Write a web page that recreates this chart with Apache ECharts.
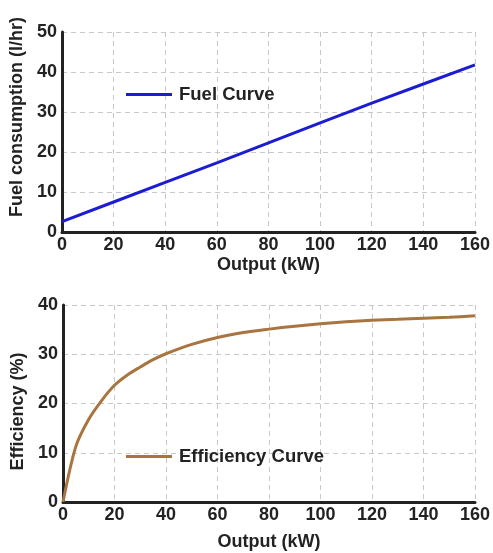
<!DOCTYPE html>
<html>
<head>
<meta charset="utf-8">
<script src="https://cdn.jsdelivr.net/npm/echarts@6/dist/echarts.min.js"></script>
<style>
  html, body { margin: 0; padding: 0; background: #fff; }
  #chart { width: 493px; height: 553px; }
</style>
</head>
<body>
<div id="chart"></div>
<script>
  // fuel curve (top)
  const fuelOutput = [0, 20, 40, 60, 80, 100, 120, 140, 160];
  const fuelValues = [2.6, 7.5, 12.4, 17.3, 22.3, 27.3, 32.2, 37.0, 41.8];

  // efficiency curve (bottom)
  const effOutput = [0, 5, 10, 15, 20, 25, 30, 35, 40, 50, 60, 70, 80, 90, 100, 110, 120, 130, 140, 150, 160];
  const effValues = [0, 11.3, 16.8, 20.6, 23.7, 25.8, 27.4, 28.9, 30.1, 32.0, 33.4, 34.4, 35.1, 35.7, 36.2, 36.6, 36.9, 37.1, 37.3, 37.5, 37.8];

  const font = 'Liberation Sans, Arial, sans-serif';
  const txt = { color: '#222', fontFamily: font, fontWeight: 'bold', fontSize: 18 };
  const gridLine = { show: true, lineStyle: { color: '#c8c8c8', type: [5, 4], width: 1 } };
  const axisLine = { show: true, lineStyle: { color: '#222', width: 3 } };

  function pairs(xs, ys) {
    return xs.map(function (x, i) { return [x, ys[i]]; });
  }

  function xAx(idx, gap) {
    return {
      type: 'value', gridIndex: idx, min: 0, max: 160, interval: 20,
      name: 'Output (kW)', nameLocation: 'middle', nameGap: gap,
      nameTextStyle: txt,
      axisLine: axisLine, axisTick: { show: false },
      axisLabel: Object.assign({ margin: 4 }, txt),
      splitLine: gridLine
    };
  }

  function yAx(idx, name, max, pad) {
    return {
      type: 'value', gridIndex: idx, min: 0, max: max, interval: 10,
      name: name, nameLocation: 'middle', nameGap: 34,
      nameTextStyle: Object.assign({ padding: pad }, txt),
      axisLine: axisLine, axisTick: { show: false },
      axisLabel: Object.assign({ margin: 5 }, txt),
      splitLine: gridLine
    };
  }

  function legend(name, top) {
    return {
      data: [name], left: 121, top: top,
      icon: 'rect', itemWidth: 46, itemHeight: 3,
      textStyle: Object.assign({ padding: [0, 0, 0, 2] }, txt, { fontSize: 18.5 }),
      selectedMode: false
    };
  }

  const chart = echarts.init(document.getElementById('chart'));
  chart.setOption({
    animation: false,
    grid: [
      { left: 62, right: 14, top: 32, height: 200 },
      { left: 63, right: 14, top: 305, height: 197 }
    ],
    legend: [legend('Fuel Curve', 80), legend('Efficiency Curve', 442)],
    xAxis: [xAx(0, 24), xAx(1, 31)],
    yAxis: [
      yAx(0, 'Fuel consumption (l/hr)', 50, [0, 0, 0, 30]),
      yAx(1, 'Efficiency (%)', 40, [0, 16, 0, 0])
    ],
    series: [
      {
        name: 'Fuel Curve', type: 'line', xAxisIndex: 0, yAxisIndex: 0,
        data: pairs(fuelOutput, fuelValues), showSymbol: false,
        lineStyle: { color: '#1c1cd2', width: 3 }, itemStyle: { color: '#1c1cd2' }
      },
      {
        name: 'Efficiency Curve', type: 'line', xAxisIndex: 1, yAxisIndex: 1,
        data: pairs(effOutput, effValues), showSymbol: false,
        smooth: 0.3,
        lineStyle: { color: '#a8743f', width: 3 }, itemStyle: { color: '#a8743f' }
      }
    ]
  });
</script>
</body>
</html>
